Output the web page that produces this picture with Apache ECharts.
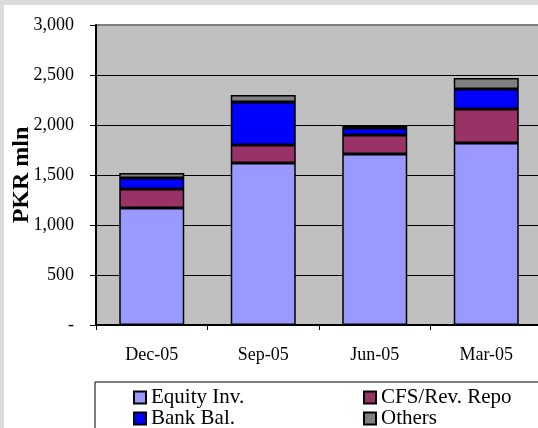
<!DOCTYPE html>
<html>
<head>
<meta charset="utf-8">
<script src="https://cdn.jsdelivr.net/npm/echarts@6/dist/echarts.min.js"></script>
<style>
  html, body { margin: 0; padding: 0; background: #fff; }
  #chart { width: 538px; height: 428px; }
</style>
</head>
<body>
<div id="chart"></div>
<script>
// quarters, latest first as in the source
var categories = ['Dec-05', 'Sep-05', 'Jun-05', 'Mar-05'];
var equityInv = [1170, 1620, 1710, 1820];
var cfsRepo   = [190, 180, 190, 340];
var bankBal   = [110, 430, 70, 200];
var others    = [50, 70, 30, 110];
var seriesNames = ['Equity Inv.', 'CFS/Rev. Repo', 'Bank Bal.', 'Others'];
var seriesColors = ['#9999ff', '#993366', '#0000ff', '#808080'];

var chart = echarts.init(document.getElementById('chart'));
var font = '"Liberation Serif", "Times New Roman", serif';

var datalist = [equityInv, cfsRepo, bankBal, others];
var series = [];
for (var i = 0; i < seriesNames.length; i++) {
    series.push({
        name: seriesNames[i],
        type: 'bar',
        stack: 'total',
        barWidth: 65,
        itemStyle: { color: seriesColors[i], borderColor: '#000', borderWidth: 1.5 },
        data: datalist[i]
    });
}

function legendCol(names, left) {
    return {
        data: names,
        orient: 'vertical', left: left, top: 387, height: 120,
        padding: 0, itemGap: 0,
        itemWidth: 12, itemHeight: 12, icon: 'rect',
        textStyle: { fontFamily: font, fontSize: 21, color: '#000', lineHeight: 20 }
    };
}

var option = {
    backgroundColor: '#fff',
    animation: false,
    textStyle: { fontFamily: font },
    grid: {
        left: 96, top: 25, width: 446, height: 300,
        outerBoundsMode: 'none', containLabel: false,
        show: true, backgroundColor: '#c0c0c0',
        borderColor: '#808080', borderWidth: 2
    },
    legend: [
        legendCol(['Equity Inv.', 'Bank Bal.'], 133),
        legendCol(['CFS/Rev. Repo', 'Others'], 363)
    ],
    graphic: [
        { type: 'rect', left: 0, top: 0, shape: { width: 538, height: 5 }, style: { fill: '#dcdcdc' }, silent: true },
        { type: 'rect', left: 0, top: 0, shape: { width: 4, height: 428 }, style: { fill: '#dcdcdc' }, silent: true },
        { type: 'rect', left: 92.5, top: 379.5, shape: { width: 460, height: 60 }, style: { fill: 'none', stroke: '#000', lineWidth: 1 }, silent: true, z: -1 }
    ],
    xAxis: {
        type: 'category',
        data: categories,
        axisLine: { lineStyle: { color: '#000', width: 2 } },
        axisTick: { show: true, length: 5, lineStyle: { color: '#000' } },
        axisLabel: { color: '#000', fontSize: 18, fontFamily: font, margin: 21 }
    },
    yAxis: {
        type: 'value',
        min: 0, max: 3000, interval: 500,
        name: 'PKR mln',
        nameLocation: 'middle',
        nameGap: 62,
        nameMoveOverlap: false,
        nameTextStyle: { fontFamily: font, fontSize: 24, fontWeight: 'bold', color: '#000' },
        axisLine: { show: true, lineStyle: { color: '#000', width: 2 } },
        axisTick: { show: true, length: 6, lineStyle: { color: '#000' } },
        axisLabel: {
            color: '#000', fontSize: 18, fontFamily: font, margin: 22,
            formatter: function (v) {
                return v === 0 ? '-' : v.toLocaleString('en-US');
            }
        },
        splitLine: { show: true, showMaxLine: false, lineStyle: { color: '#000', width: 1 } }
    },
    series: series
};
chart.setOption(option);
</script>
</body>
</html>
